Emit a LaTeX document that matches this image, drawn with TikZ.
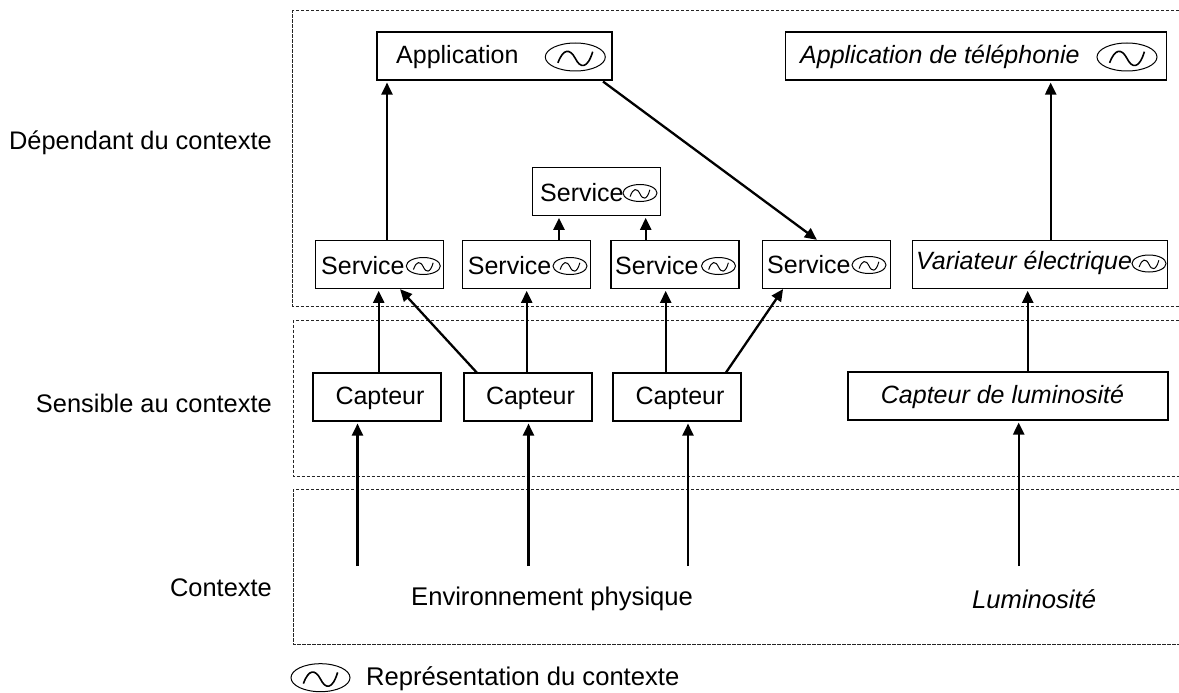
\documentclass[tikz,border=0pt]{standalone}
\usepackage{fontspec}
\setmainfont{Liberation Sans}
\usetikzlibrary{arrows.meta}
\tikzset{
  box/.style={draw=black,line width=1.1pt,fill=white,inner sep=0pt,minimum height=48pt,font=\fontsize{25}{25}\selectfont},
  zone/.style={draw=black!85,line width=1pt,dash pattern=on 3.5pt off 1.5pt},
  arr/.style={draw=black,line width=2.3pt,shorten >=2pt,-{Triangle[length=12pt,width=11pt]}},
  lab/.style={inner sep=0pt,font=\fontsize{25}{25}\selectfont},
  outerlab/.style={inner sep=0pt,font=\fontsize{25.6}{25.6}\selectfont},
  sidelab/.style={inner sep=0pt,font=\fontsize{25.4}{25.4}\selectfont},
}
% \wavesym{x}{y}{rx}{ry}{wave width}
\newcommand{\wavesym}[5]{%
  \begin{scope}[shift={(#1,#2)},x=#3pt,y=#4pt]
    \draw[line width=1pt] (0,0) ellipse (1 and 1);
    \draw[line width=#5pt] (-0.58,-0.42) .. controls (-0.4,0.62) and (-0.18,0.62) .. (0,-0.1)
       .. controls (0.16,-0.8) and (0.4,-0.9) .. (0.58,0.38);
  \end{scope}}
\begin{document}
\begin{tikzpicture}[x=1pt,y=-1pt]
\useasboundingbox (0,0) rectangle (1179,693);
% zones (open to the right)
\draw[zone] (1179,11) -- (292.3,11) -- (292.3,306) -- (1179,306);
\draw[zone] (1179,320.7) -- (293,320.7) -- (293,476) -- (1179,476);
\draw[zone] (1179,489) -- (293,489) -- (293,644) -- (1179,644);
% side labels
\node[sidelab,anchor=east] (l1) at (272,143) {Dépendant du contexte};
\node[sidelab,anchor=east] (l2) at (272,403) {Sensible au contexte};
\node[sidelab,anchor=east] (l3) at (272,588) {Contexte};
% boxes
\node[box,minimum width=235pt] (app) at (494.5,56) {};
\node[box,minimum width=381pt] (tel) at (976,56) {};
\node[box,minimum width=128pt] (s0) at (596.7,191.3) {};
\node[box,minimum width=128pt] (s1) at (379.5,264.3) {};
\node[box,minimum width=128pt] (s2) at (526.5,264.3) {};
\node[box,minimum width=128pt] (s3) at (675,264.3) {};
\node[box,minimum width=128pt] (s4) at (826.3,264.3) {};
\node[box,minimum width=255.5pt] (var) at (1040,264.3) {};
\node[box,minimum width=128pt] (c1) at (377,397) {};
\node[box,minimum width=128pt] (c2) at (528,397) {};
\node[box,minimum width=128pt] (c3) at (677,397) {};
\node[box,minimum width=320pt] (c4) at (1008,396) {};
% box texts
\node[lab,anchor=center] (tc1) at (380,398.5) {Capteur};
\node[lab,anchor=center] (tc2) at (530.5,398.5) {Capteur};
\node[lab,anchor=center] (tc3) at (680,398.5) {Capteur};
\node[lab,anchor=center] (tc4) at (1002.5,396.5) {\itshape Capteur de luminosité};
\node[lab,anchor=west] (tapp) at (396,57) {Application};
\node[lab,anchor=west] (ttel) at (800,57) {\itshape Application de téléphonie};
\node[lab,anchor=west] (ts0) at (540,192.5) {Service};
\node[lab,anchor=west] (ts1) at (321,265.5) {Service};
\node[lab,anchor=west] (ts2) at (467.7,265.5) {Service};
\node[lab,anchor=west] (ts3) at (615,265.5) {Service};
\node[lab,anchor=west] (ts4) at (767,264.5) {Service};
\node[lab,anchor=west] (tvar) at (916,263) {\itshape Variateur électrique};
% symbols
\wavesym{575.3}{57}{30}{14}{1.6}
\wavesym{1127}{57}{30}{14}{1.6}
\wavesym{640}{193}{17}{8.5}{1}
\wavesym{423.3}{266}{17}{8.5}{1}
\wavesym{570}{266}{17}{8.5}{1}
\wavesym{718.5}{266}{17}{8.5}{1}
\wavesym{869}{265}{17}{8.5}{1}
\wavesym{1149}{263.5}{17}{8.5}{1}
% arrows
\coordinate (a1) at (387,240);
\draw[arr] (a1) -- (app.south -| a1);
\coordinate (a2) at (559,240);
\draw[arr] (a2) -- (s0.south -| a2);
\coordinate (a3) at (645.7,240);
\draw[arr] (a3) -- (s0.south -| a3);
\coordinate (a4) at (1050.7,240);
\draw[arr] (a4) -- (tel.south -| a4);
\coordinate (a5) at (603,81.5);
\coordinate (a6) at (818.5,241);
\draw[arr] (a5) -- (a6);
\coordinate (a7) at (378.7,373);
\draw[arr] (a7) -- (s1.south -| a7);
\coordinate (a8) at (476.7,372.5);
\coordinate (a9) at (398.7,287.7);
\draw[arr] (a8) -- (a9);
\coordinate (a10) at (526.7,373);
\draw[arr] (a10) -- (s2.south -| a10);
\coordinate (a11) at (665.7,373);
\draw[arr] (a11) -- (s3.south -| a11);
\coordinate (a12) at (726,372.5);
\coordinate (a13) at (784.2,287.4);
\draw[arr] (a12) -- (a13);
\coordinate (a14) at (1027.7,372);
\draw[arr] (a14) -- (var.south -| a14);
\coordinate (e1) at (357.5,566);
\draw[arr] (e1) -- (c1.south -| e1);
\coordinate (e2) at (528.5,566);
\draw[arr] (e2) -- (c2.south -| e2);
\coordinate (e3) at (688,566);
\draw[arr] (e3) -- (c3.south -| e3);
\coordinate (e4) at (1018.7,566);
\draw[arr] (e4) -- (c4.south -| e4);
% bottom labels
\node[outerlab,anchor=west] (env) at (411,598.5) {Environnement physique};
\node[outerlab,anchor=west] (lum) at (972,599) {\itshape Luminosité};
\wavesym{320.5}{677.7}{29.5}{14}{1.6}
\node[outerlab,anchor=west] (leg) at (366,679) {Représentation du contexte};
\end{tikzpicture}
\end{document}
